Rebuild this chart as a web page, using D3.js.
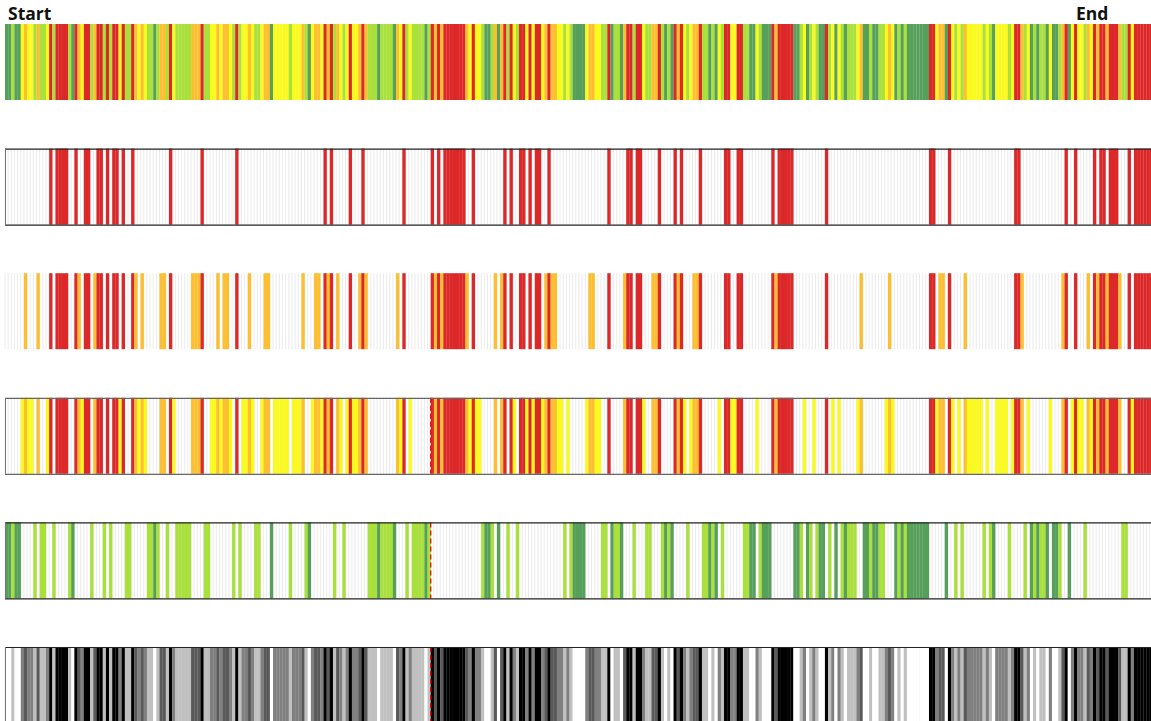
<!DOCTYPE html>
<html>
<head>
<meta charset="utf-8">
<script src="https://cdn.jsdelivr.net/npm/d3@7"></script>
<style>
  html, body { margin: 0; padding: 0; background: #fff; overflow: hidden; }
  svg { display: block; }
</style>
</head>
<body>
<svg id="chart" width="1151" height="721"></svg>
<script>
// ---- data: one status code per step (0 = dark green ... 4 = red) ----
const statusCodes = [
  0,0,1,0,0,2,3,2,2,1, 3,1,1,2,4,1,4,4,4,4, 1,0,4,3,2,4,4,1,3,4, 4,1,4,1,4,4,2,4,1,1,
  4,3,2,3,2,1,1,0,1,3, 3,1,4,2,1,1,1,1,1,3, 3,3,4,1,1,2,2,3,2,3, 3,2,1,4,1,2,2,3,2,1,
  1,2,3,3,0,2,2,2,2,2, 1,2,2,2,3,1,0,2,3,3, 2,4,3,4,1,3,2,1,2,4, 2,2,3,4,3,1,1,1,0,1,
  1,1,1,0,3,2,4,1,2,1, 1,1,1,0,1,4,3,4,3,4, 4,4,4,4,4,4,3,2,4,2, 2,1,0,0,1,3,0,3,4,1,
  4,2,1,4,4,2,4,2,4,4, 2,3,4,3,3,2,2,1,2,1, 0,0,0,0,2,3,3,2,2,1, 1,4,0,1,1,0,3,4,4,1,
  4,4,2,1,1,3,3,4,1,0, 1,0,4,3,4,2,1,2,3,3, 4,1,1,0,1,0,2,1,4,4, 2,2,4,4,1,1,0,0,2,1,
  0,0,0,4,3,4,4,4,4,4, 0,0,1,2,0,1,2,1,0,0, 4,1,2,0,2,1,0,1,1,1, 2,3,0,0,1,0,0,1,1,2,
  3,2,0,1,0,1,0,0,0,0, 0,0,0,4,4,2,3,3,0,4, 2,1,2,1,3,2,2,2,2,2, 1,2,1,0,2,2,2,2,1,2,
  4,4,3,1,2,0,1,0,1,1, 0,2,0,0,1,3,4,0,2,4, 2,2,1,3,2,4,3,4,4,3, 4,4,4,3,1,1,4,2,4,4,
  4,4,4,4,4
];
const statusLevels = [0, 1, 2, 3, 4];
const statusColors = ["#57a05b", "#a9e03c", "#fbfa1e", "#fdbf30", "#dc2828"];
const statusGreys  = ["#ffffff", "#c0c0c0", "#808080", "#595959", "#000000"];
// which status codes each strip shows
const stripLevels = [
  [0, 1, 2, 3, 4],
  [4],
  [3, 4],
  [2, 3, 4],
  [0, 1],
  [0, 1, 2, 3, 4]
];
const stripGrey = [false, false, false, false, false, true];
const stripFramed = [false, true, false, true, true, true];
const markerIndex = 135;          // dashed marker position (step index)
const markerStrips = [3, 4, 5];
const labelStart = "Start";
const labelEnd = "End";

// ---- layout ----
const svg = d3.select("#chart");
const N = statusCodes.length;
const cellW = 3.1535;
const x0 = 5;
const x = d3.scaleBand().domain(d3.range(N)).range([x0, x0 + N * cellW]).padding(0);
const stripTop = 24, stripPitch = 124.6, stripH = 76;

const color = d3.scaleOrdinal().domain(statusLevels).range(statusColors);
const grey = d3.scaleOrdinal().domain(statusLevels).range(statusGreys);

stripLevels.forEach((levels, s) => {
  const top = stripTop + s * stripPitch;
  const g = svg.append("g").attr("transform", `translate(0,${top})`);
  // light cell separators
  if (s > 0) {
    g.append("g").selectAll("line").data(d3.range(N + 1)).join("line")
      .attr("x1", i => x0 + i * cellW).attr("x2", i => x0 + i * cellW)
      .attr("y1", 0).attr("y2", stripH)
      .attr("stroke", "#e6e6e6").attr("stroke-width", 0.8);
  }
  const cells = statusCodes.map((c, i) => ({ i, c })).filter(d => levels.includes(d.c));
  g.append("g").selectAll("rect").data(cells).join("rect")
    .attr("x", d => x(d.i))
    .attr("y", 0)
    .attr("width", x.bandwidth() + 0.15)
    .attr("height", stripH)
    .attr("fill", d => stripGrey[s] ? grey(d.c) : color(d.c));
  if (markerStrips.includes(s)) {
    const mx = x(markerIndex);
    g.append("line").attr("x1", mx).attr("x2", mx).attr("y1", 0).attr("y2", stripH)
      .attr("stroke", "#ff0000").attr("stroke-width", 1.3).attr("stroke-dasharray", "5,3");
  }
  if (stripFramed[s]) {
    g.append("line").attr("x1", x0).attr("x2", 1151).attr("y1", 0.5).attr("y2", 0.5)
      .attr("stroke", s === 3 ? "#666" : "#222").attr("stroke-width", 1.2);
    g.append("line").attr("x1", x0).attr("x2", 1151).attr("y1", stripH + 0.5).attr("y2", stripH + 0.5)
      .attr("stroke", s === 3 ? "#666" : "#222").attr("stroke-width", 1.2);
    g.append("line").attr("x1", x0 + 0.5).attr("x2", x0 + 0.5).attr("y1", 0).attr("y2", stripH)
      .attr("stroke", "#777").attr("stroke-width", 1);
  }
});

svg.append("text").attr("x", 8).attr("y", 20).text(labelStart)
  .attr("font-family", "Open Sans, Noto Sans, sans-serif").attr("font-weight", 700)
  .attr("font-size", 17.5).attr("fill", "#111");
svg.append("text").attr("x", 1076).attr("y", 20).text(labelEnd)
  .attr("font-family", "Open Sans, Noto Sans, sans-serif").attr("font-weight", 700)
  .attr("font-size", 17.5).attr("fill", "#111");
</script>
</body>
</html>
